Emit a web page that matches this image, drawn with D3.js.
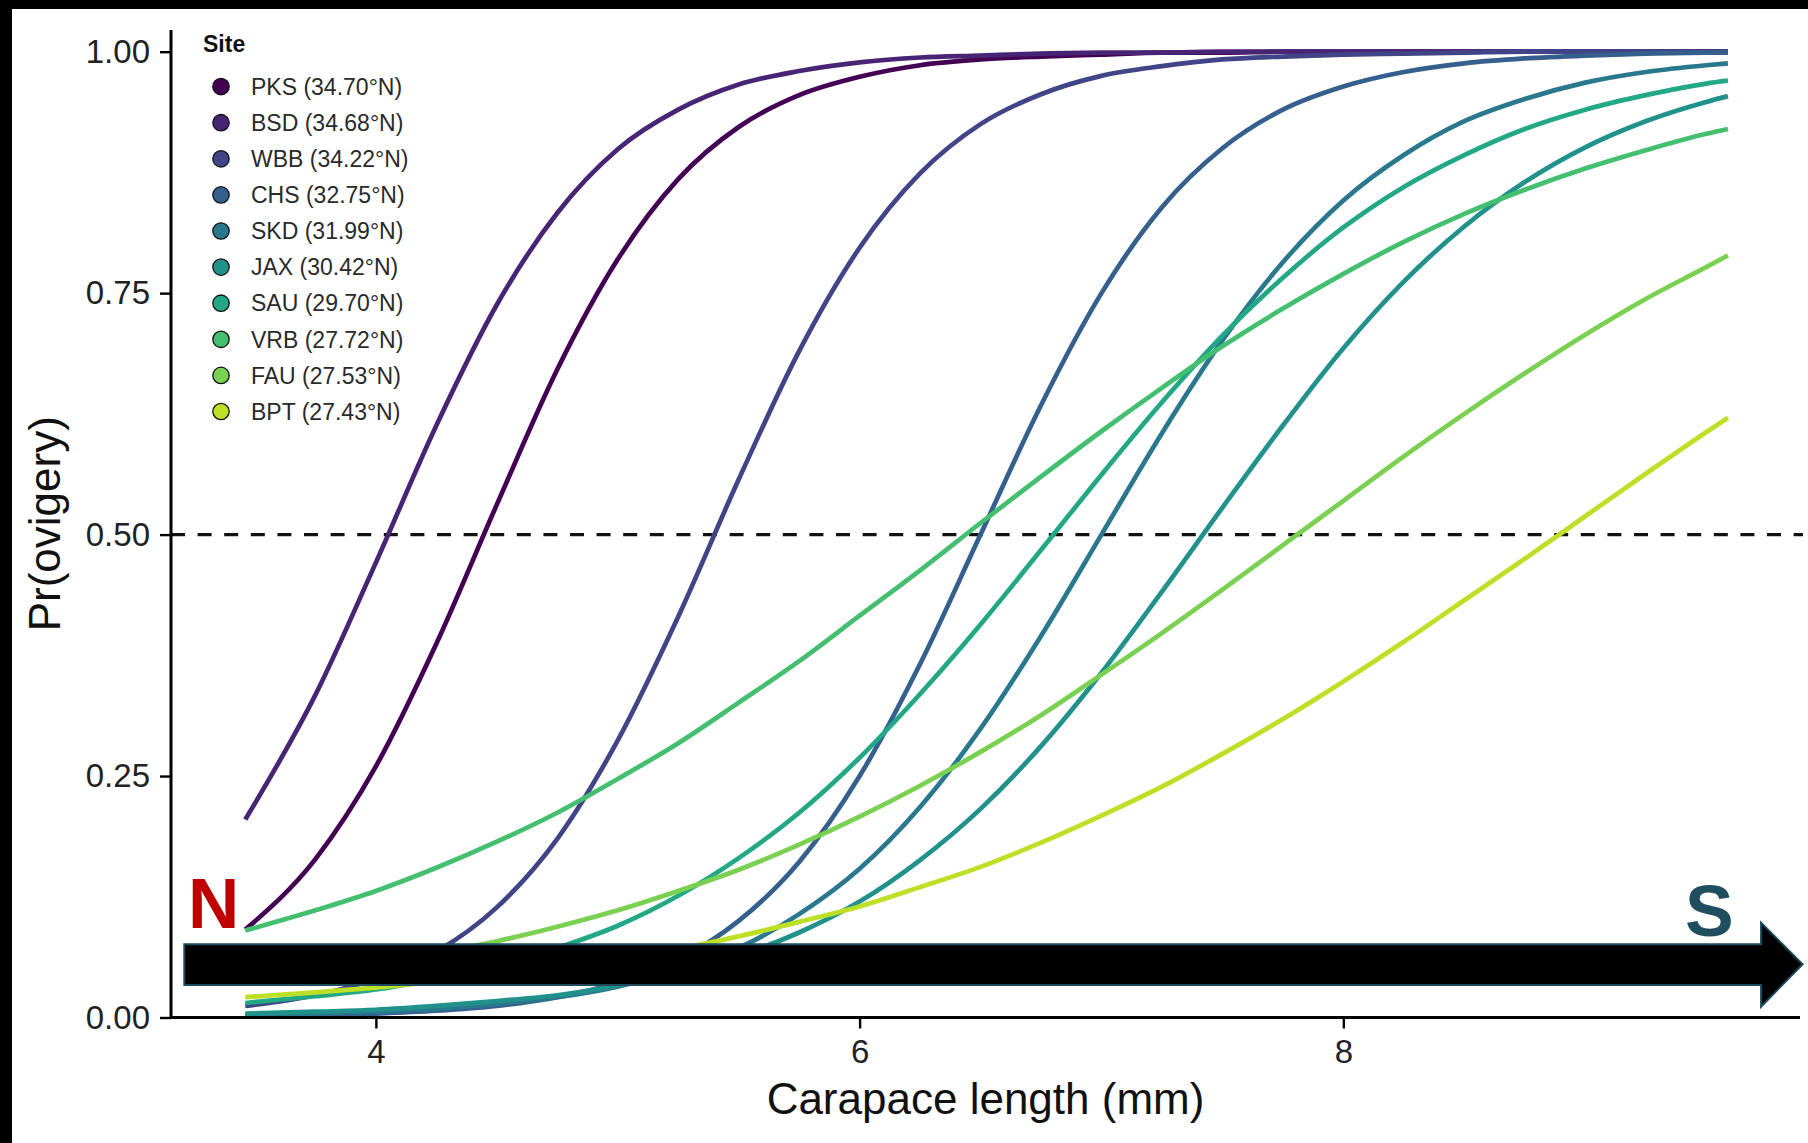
<!DOCTYPE html>
<html>
<head>
<meta charset="utf-8">
<script src="https://cdn.jsdelivr.net/npm/d3@7"></script>
<style>
  html, body { margin: 0; padding: 0; background: #ffffff; }
  svg { display: block; }
  text { font-family: "Liberation Sans", Arial, Helvetica, sans-serif; }
</style>
</head>
<body>
<script>
// ---------------- data ----------------
const sites = ["PKS", "BSD", "WBB", "CHS", "SKD", "JAX", "SAU", "VRB", "FAU", "BPT"];
const latitudes = ["34.70", "34.68", "34.22", "32.75", "31.99", "30.42", "29.70", "27.72", "27.53", "27.43"];
const carapaceLength = [3.46, 3.75, 4, 4.25, 4.5, 4.75, 5, 5.25, 5.5, 5.75, 6, 6.25, 6.5, 6.75, 7, 7.25, 7.5, 7.75, 8, 8.25, 8.5, 8.75, 9, 9.25, 9.5, 9.59];

const pks = [0.091, 0.164, 0.260, 0.387, 0.531, 0.671, 0.785, 0.868, 0.922, 0.955, 0.974, 0.986, 0.992, 0.995, 0.997, 0.999, 0.999, 1, 1, 1, 1, 1, 1, 1, 1, 1];
const bsd = [0.205, 0.334, 0.471, 0.613, 0.738, 0.833, 0.899, 0.940, 0.966, 0.980, 0.989, 0.994, 0.996, 0.998, 0.999, 0.999, 1, 1, 1, 1, 1, 1, 1, 1, 1, 1];
const wbb = [0.012, 0.023, 0.040, 0.068, 0.114, 0.185, 0.287, 0.415, 0.557, 0.690, 0.797, 0.874, 0.925, 0.956, 0.975, 0.985, 0.992, 0.995, 0.997, 0.998, 0.999, 1, 1, 1, 1, 1];
const chs = [0.001, 0.002, 0.004, 0.007, 0.012, 0.021, 0.036, 0.060, 0.100, 0.161, 0.250, 0.366, 0.500, 0.634, 0.750, 0.839, 0.900, 0.940, 0.964, 0.979, 0.988, 0.993, 0.996, 0.998, 0.999, 0.999];
const skd = [0.002, 0.004, 0.006, 0.009, 0.014, 0.021, 0.032, 0.049, 0.072, 0.107, 0.154, 0.218, 0.299, 0.395, 0.500, 0.605, 0.701, 0.782, 0.846, 0.893, 0.928, 0.951, 0.968, 0.979, 0.986, 0.988];
const jax = [0.004, 0.006, 0.008, 0.012, 0.017, 0.023, 0.033, 0.046, 0.064, 0.088, 0.120, 0.163, 0.216, 0.281, 0.357, 0.441, 0.528, 0.613, 0.693, 0.762, 0.819, 0.865, 0.901, 0.928, 0.948, 0.954];
const sau = [0.015, 0.022, 0.029, 0.040, 0.053, 0.072, 0.095, 0.126, 0.165, 0.212, 0.269, 0.335, 0.407, 0.484, 0.562, 0.637, 0.706, 0.766, 0.818, 0.860, 0.893, 0.920, 0.940, 0.955, 0.967, 0.970];
const vrb = [0.090, 0.111, 0.131, 0.155, 0.182, 0.212, 0.247, 0.284, 0.326, 0.369, 0.416, 0.463, 0.512, 0.560, 0.607, 0.652, 0.695, 0.734, 0.770, 0.803, 0.832, 0.857, 0.879, 0.898, 0.915, 0.920];
const fau = [0.038, 0.047, 0.056, 0.067, 0.079, 0.094, 0.111, 0.131, 0.153, 0.179, 0.208, 0.240, 0.275, 0.313, 0.355, 0.398, 0.443, 0.489, 0.535, 0.581, 0.625, 0.667, 0.707, 0.744, 0.777, 0.789];
const bpt = [0.021, 0.026, 0.031, 0.037, 0.043, 0.051, 0.061, 0.071, 0.084, 0.099, 0.115, 0.135, 0.156, 0.181, 0.209, 0.239, 0.273, 0.309, 0.348, 0.389, 0.432, 0.475, 0.519, 0.563, 0.606, 0.621];

const seriesValues = [pks, bsd, wbb, chs, skd, jax, sau, vrb, fau, bpt];
const xTicks = [4, 6, 8];
const yTicks = [0, 0.25, 0.5, 0.75, 1];
const threshold = 0.5;

// ---------------- layout ----------------
const W = 1808, H = 1143;
const svg = d3.select("body").append("svg").attr("width", W).attr("height", H);
svg.append("rect").attr("width", W).attr("height", H).attr("fill", "#fff");
// black frame strips of the original figure
svg.append("rect").attr("x", 0).attr("y", 0).attr("width", W).attr("height", 9).attr("fill", "#000");
svg.append("rect").attr("x", 0).attr("y", 0).attr("width", 12).attr("height", H).attr("fill", "#000");

const x = d3.scaleLinear().domain([3.153, 9.888]).range([171, 1800]);
const y = d3.scaleLinear().domain([0, 1]).range([1017.5, 51.7]);
const color = i => d3.interpolateViridis(i / 10);

// dashed threshold line
svg.append("line")
  .attr("x1", x(3.153)).attr("x2", 1803)
  .attr("y1", y(threshold)).attr("y2", y(threshold))
  .attr("stroke", "#111").attr("stroke-width", 3.2)
  .attr("stroke-dasharray", "14,12.6");

// curves
const line = d3.line()
  .x((d, i) => x(carapaceLength[i]))
  .y(d => y(d))
  .curve(d3.curveMonotoneX);

svg.append("g").selectAll("path")
  .data(seriesValues)
  .join("path")
  .attr("d", d => line(d))
  .attr("fill", "none")
  .attr("stroke", (d, i) => color(i))
  .attr("stroke-width", 4.7);

// axes
const xAxis = svg.append("g").attr("transform", `translate(0,${y(0)})`)
  .call(d3.axisBottom(x).tickValues(xTicks).tickFormat(d3.format("d")).tickSize(11).tickPadding(10));
const yAxis = svg.append("g").attr("transform", `translate(${x(3.153)},0)`)
  .call(d3.axisLeft(y).tickValues(yTicks).tickFormat(d3.format(".2f")).tickSize(11).tickPadding(10));

[xAxis, yAxis].forEach(g => {
  g.selectAll(".domain").remove();
  g.selectAll(".tick line").attr("stroke", "#000").attr("stroke-width", 2.4);
  g.selectAll(".tick text").attr("fill", "#222").attr("font-size", 33)
    .attr("font-family", "'Liberation Sans', Arial, sans-serif");
});
xAxis.selectAll(".tick text").attr("dy", "0.74em");
// axis lines
svg.append("line").attr("x1", x(3.153)).attr("x2", 1800).attr("y1", y(0)).attr("y2", y(0))
  .attr("stroke", "#000").attr("stroke-width", 3);
svg.append("line").attr("x1", x(3.153)).attr("x2", x(3.153)).attr("y1", y(0) + 1.5).attr("y2", y(1.0225))
  .attr("stroke", "#000").attr("stroke-width", 3);

// axis titles
svg.append("text").attr("x", (171 + 1800) / 2).attr("y", 1114)
  .attr("text-anchor", "middle").attr("font-size", 44).attr("fill", "#111")
  .text("Carapace length (mm)");
svg.append("text").attr("transform", `translate(60,${(30 + 1017.5) / 2}) rotate(-90)`)
  .attr("text-anchor", "middle").attr("font-size", 44).attr("fill", "#111")
  .text("Pr(ovigery)");

// legend
const legend = svg.append("g");
legend.append("text").attr("x", 203).attr("y", 52).attr("font-size", 23)
  .attr("font-weight", "bold").attr("fill", "#111").text("Site");
const items = legend.selectAll("g.item").data(sites).join("g")
  .attr("class", "item")
  .attr("transform", (d, i) => `translate(221,${86.6 + i * 36.1})`);
items.append("circle").attr("r", 8.2).attr("fill", (d, i) => color(i))
  .attr("stroke", "#111").attr("stroke-width", 1.3);
items.append("text").attr("x", 30).attr("dy", "0.36em").attr("font-size", 23)
  .attr("fill", "#2a2a2a")
  .text((d, i) => `${d} (${latitudes[i]}°N)`);

// North -> South arrow annotation
const ax0 = x(3.208), ax1 = x(9.727), axTip = x(9.899);
const sTop = y(0.0758), sBot = y(0.0337), hTop = y(0.0982), hBot = y(0.0112), tipY = y(0.0551);
svg.append("path")
  .attr("d", `M${ax0},${sTop}L${ax1},${sTop}L${ax1},${hTop}L${axTip},${tipY}L${ax1},${hBot}L${ax1},${sBot}L${ax0},${sBot}Z`)
  .attr("fill", "#000").attr("stroke", "#1d4b5c").attr("stroke-width", 2);

svg.append("text").attr("x", 188).attr("y", 928).attr("font-size", 71).attr("font-weight", "bold")
  .attr("fill", "#c00000").text("N");
svg.append("text").attr("x", 1685).attr("y", 936).attr("font-size", 73).attr("font-weight", "bold")
  .attr("fill", "#1f4e5f").text("S");
</script>
</body>
</html>
